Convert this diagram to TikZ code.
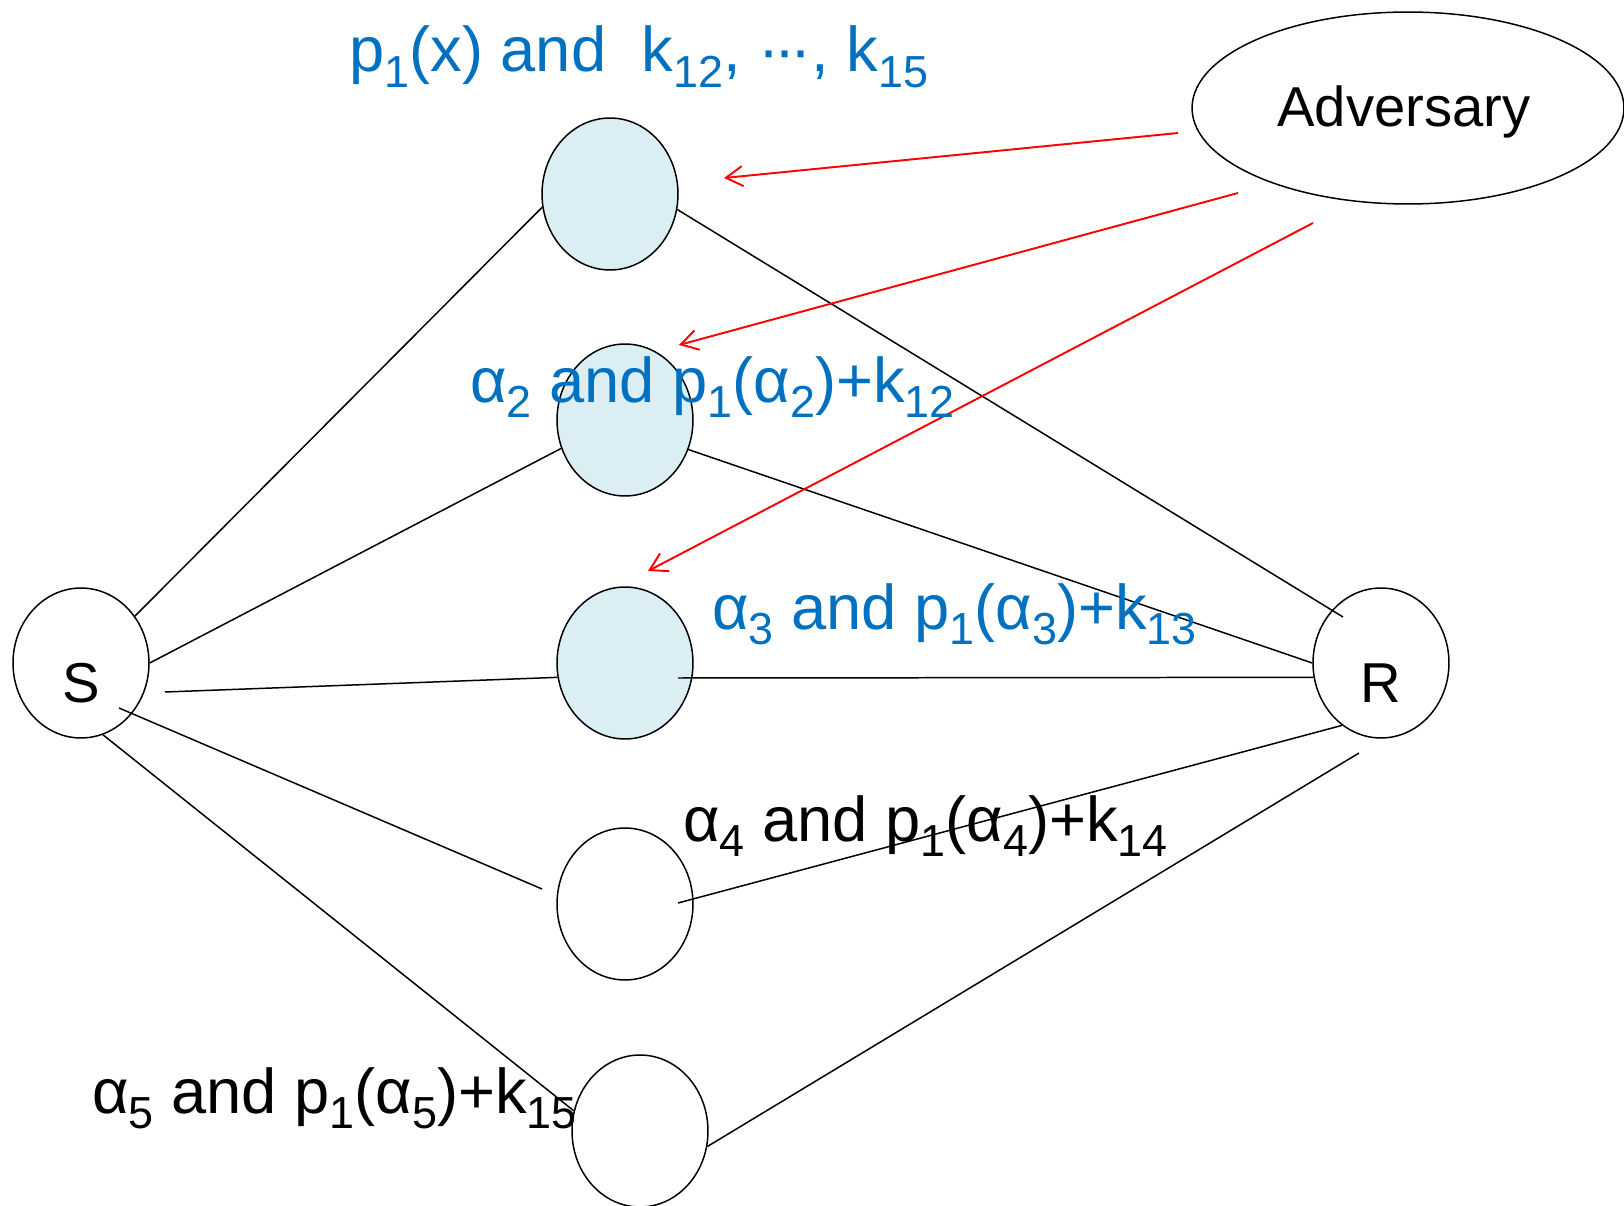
\documentclass[tikz,border=0pt]{standalone}
\usepackage{fontspec}
\setmainfont{Liberation Sans}
\usepackage{graphicx}
\usetikzlibrary{arrows.meta,shapes.geometric}
\definecolor{lblblue}{HTML}{0070C0}
\definecolor{hitfill}{HTML}{DAEEF3}
\newcommand{\ix}[1]{\raisebox{-0.24em}{\scalebox{0.71}{#1}}}
\tikzset{
  relay/.style={ellipse, draw=black, line width=0.85pt, minimum width=2.72cm, minimum height=3.04cm, inner sep=0pt, fill=white},
  relayhit/.style={relay, fill=hitfill},
  party/.style={ellipse, draw=black, line width=0.85pt, minimum width=2.72cm, minimum height=3.0cm, inner sep=0pt},
  advbox/.style={ellipse, draw=black, line width=0.85pt, minimum width=8.64cm, minimum height=3.84cm, inner sep=0pt},
  bigtext/.style={font=\fontsize{32}{38}\selectfont},
  link/.style={line width=0.85pt, draw=black},
  attack/.style={-{Straight Barb[length=9.6pt, width=11.4pt]}, line width=1.1pt, draw=red},
  lbl/.style={anchor=base west, inner sep=0pt, font=\fontsize{36}{43}\selectfont}
}

\begin{document}
\begin{tikzpicture}[x=0.02cm, y=-0.02cm]
  \useasboundingbox (0,0) rectangle (1624,1206);
  % parties and relays
  \node[party, label={[bigtext, yshift=-0.4cm]center:S}] (S) at (81,663) {};
  \node[party, label={[bigtext, yshift=-0.4cm]center:R}] (R) at (1381,663) {};
  \node[relayhit] (n1) at (610,194) {};
  \node[relayhit] (n2) at (625,420) {};
  \node[relayhit] (n3) at (625,663) {};
  \node[relay] (n4) at (625,904) {};
  \node[relay] (n5) at (640,1131) {};
  \node[advbox, label={[bigtext, xshift=-0.08cm, yshift=-0.08cm]center:Adversary}] (adv) at (1408,108) {};

  % loose ends
  \coordinate (s3) at (165,692);
  \coordinate (s4) at (119,708);
  \coordinate (n3r) at (678,678);
  \coordinate (n4l) at (542,889);
  \coordinate (n4r) at (678,903);
  \coordinate (r1) at (1343,617);
  \coordinate (r5) at (1359,753);

  \draw[link] (S.41) -- (n1.191);
  \draw[link] (S.east) -- (n2.204);
  \draw[link] (s3) -- (n3.192);
  \draw[link] (s4) -- (n4l);
  \draw[link] (S.-73) -- (n5.163);
  \draw[link] (n1.-13) -- (r1);
  \draw[link] (n2.-25) -- (R.west);
  \draw[link] (n3r) -- (R.192);
  \draw[link] (n4r) -- (R.238);
  \draw[link] (n5.-13) -- (r5);

  % attacks
  \coordinate (a1) at (1178,133);
  \coordinate (t1) at (724,178);
  \coordinate (a2) at (1238,193);
  \coordinate (t2) at (679,345);
  \coordinate (a3) at (1313,223);
  \coordinate (t3) at (648,571);
  \draw[attack] (a1) -- (t1);
  \draw[attack] (a2) -- (t2);
  \draw[attack] (a3) -- (t3);

  % what each relay gets
  \node[lbl, text=lblblue] (l1) at (349,72) {p\ix{1}(x) and \ k\ix{12}, ·\kern-0.08em·\kern-0.08em·, k\ix{15}};
  \node[lbl, text=lblblue] (l2) at (470,402) {α\ix{2} and p\ix{1}(α\ix{2})+k\ix{12}};
  \node[lbl, text=lblblue] (l3) at (712,629) {α\ix{3} and p\ix{1}(α\ix{3})+k\ix{13}};
  \node[lbl] (l4) at (683,841) {α\ix{4} and p\ix{1}(α\ix{4})+k\ix{14}};
  \node[lbl] (l5) at (92,1113) {α\ix{5} and p\ix{1}(α\ix{5})+k\ix{15}};
\end{tikzpicture}
\end{document}
